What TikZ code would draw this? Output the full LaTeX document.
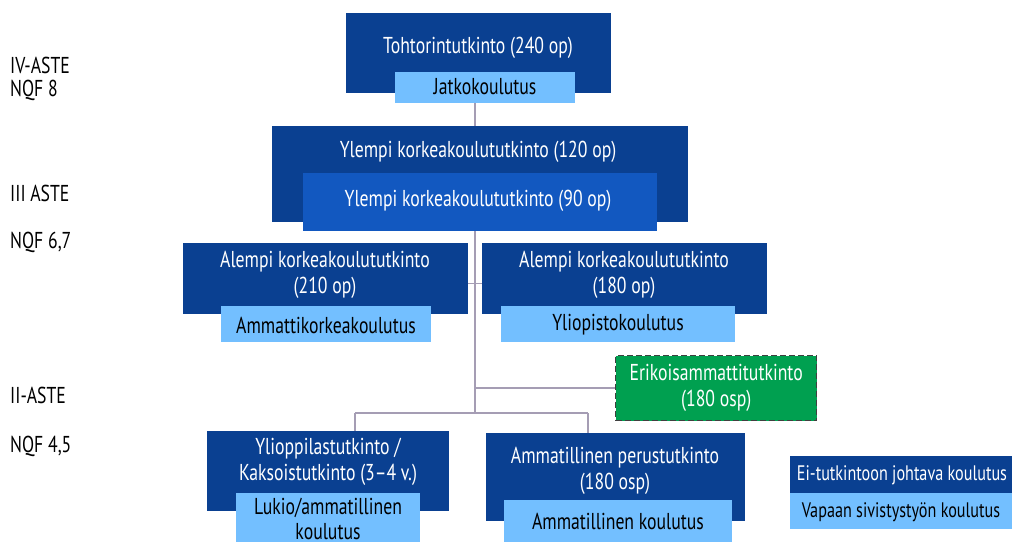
\documentclass[tikz,border=0pt]{standalone}
\usepackage{fontspec}
\setmainfont[FakeStretch=0.77]{PT Sans}
\usetikzlibrary{positioning}
\definecolor{darkblue}{RGB}{10,64,145}
\definecolor{midblue}{RGB}{18,88,192}
\definecolor{lightblue}{RGB}{115,191,255}
\definecolor{okgreen}{RGB}{0,160,80}
\definecolor{linegray}{RGB}{165,157,180}
\pgfdeclarelayer{background}
\pgfsetlayers{background,main}

\begin{document}
\begin{tikzpicture}[x=1pt,y=-1pt]

\tikzstyle{dark}=[fill=darkblue, inner sep=0pt, anchor=north west]
\tikzstyle{mid}=[fill=midblue, inner sep=0pt, anchor=north west]
\tikzstyle{light}=[fill=lightblue, inner sep=0pt, anchor=north west]
\tikzstyle{green}=[fill=okgreen, draw=black!75, line width=1.4pt,
    dash pattern=on 6pt off 3pt, inner sep=0pt,
    anchor=north west, text=white, align=center,
    font=\fontsize{23}{26}\selectfont]
\tikzstyle{wtxt}=[text=white, align=center, font=\fontsize{23}{26}\selectfont]
\tikzstyle{btxt}=[text=black, align=center, font=\fontsize{23}{25}\selectfont]
\tikzstyle{lvl}=[anchor=west, inner sep=0pt, font=\fontsize{23}{22}\selectfont]
\tikzstyle{conn}=[draw=linegray, line width=1.5pt]

\useasboundingbox (0,0) rectangle (1012,541);

% levels
\node[lvl] (iv) at (10,65) {IV-ASTE};
\node[lvl] (nqf8) at (10,90) {NQF 8};
\node[lvl] (iii) at (10,193) {III ASTE};
\node[lvl] (nqf67) at (10,242) {NQF 6,7};
\node[lvl] (ii) at (10,395) {II-ASTE};
\node[lvl] (nqf45) at (10,446) {NQF 4,5};

% IV
\node[dark, minimum width=265, minimum height=80] (toht) at (346,13) {};
\node[wtxt] (tohtT) at (478,48) {Tohtorintutkinto (240 op)};
\node[light, minimum width=180, minimum height=31] (jatko) at (395,72) {};
\node[btxt] (jatkoT) at (485,87) {Jatkokoulutus};

% III
\node[dark, minimum width=416, minimum height=96] (ylA) at (272,126) {};
\node[wtxt] (ylAT) at (478,152) {Ylempi korkeakoulututkinto (120 op)};
\node[mid, minimum width=354, minimum height=58] (ylB) at (303,173) {};
\node[wtxt] (ylBT) at (478,201) {Ylempi korkeakoulututkinto (90 op)};

\node[dark, minimum width=285, minimum height=71] (alA) at (183,243) {};
\node[wtxt] (alAT) at (325,275) {Alempi korkeakoulututkinto\\(210 op)};
\node[light, minimum width=210, minimum height=36] (amk) at (221,306) {};
\node[btxt] (amkT) at (326,325) {Ammattikorkeakoulutus};

\node[dark, minimum width=285, minimum height=71] (alB) at (482,243) {};
\node[wtxt] (alBT) at (624,275) {Alempi korkeakoulututkinto\\(180 op)};
\node[light, minimum width=234, minimum height=36] (yo) at (501,306) {};
\node[btxt] (yoT) at (618,325) {Yliopistokoulutus};

% II
\node[green, minimum width=201, minimum height=65] (erik) at (615,355)
    {Erikoisammattitutkinto\\(180 osp)};

\node[dark, minimum width=242, minimum height=80] (ylio) at (207,431) {};
\node[wtxt] (ylioT) at (328,462) {Ylioppilastutkinto /\\Kaksoistutkinto (3--4 v.)};
\node[light, minimum width=184, minimum height=55] (lukio) at (236,493) {};
\node[btxt] (lukioT) at (328,519) {Lukio/ammatillinen\\koulutus};

\node[dark, minimum width=259, minimum height=88] (perus) at (486,433) {};
\node[wtxt] (perusT) at (615,471) {Ammatillinen perustutkinto\\(180 osp)};
\node[light, minimum width=228, minimum height=45] (ammk) at (504,500) {};
\node[btxt] (ammkT) at (618,521) {Ammatillinen koulutus};

\node[dark, minimum width=230, minimum height=37] (ei) at (790,456) {};
\node[wtxt, font=\fontsize{21}{24}\selectfont] (eiT) at (902,475)
    {Ei-tutkintoon johtava koulutus};
\node[light, minimum width=230, minimum height=36] (vap) at (790,493) {};
\node[btxt, font=\fontsize{21}{24}\selectfont] (vapT) at (901,512)
    {Vapaan sivistystyön koulutus};

\coordinate (spine) at (475,413);
\coordinate (tl) at (355,413);
\coordinate (tr) at (588,413);

    \begin{pgfonlayer}{background}
        \draw[conn] (jatko.south -| spine) -- (ylA.north -| spine);
        \draw[conn] (ylB.south -| spine) -- (spine);
        \draw[conn] ([yshift=-5pt]alA.east) -- ([yshift=-5pt]alB.west);
        \draw[conn] (spine |- erik.west) -- (erik.west);
        \draw[conn] (tl) -- (tr);
        \draw[conn] (tl) -- (tl |- ylio.north);
        \draw[conn] (tr) -- (tr |- perus.north);
    \end{pgfonlayer}

\end{tikzpicture}
\end{document}
